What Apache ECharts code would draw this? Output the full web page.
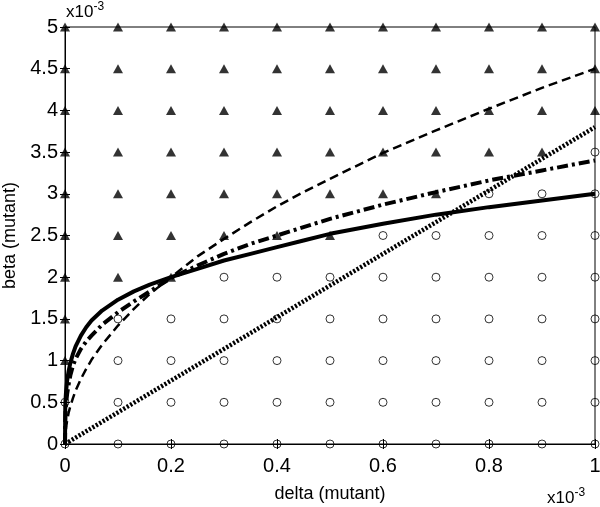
<!DOCTYPE html>
<html>
<head>
<meta charset="utf-8">
<script src="https://cdn.jsdelivr.net/npm/echarts@6/dist/echarts.min.js"></script>
<style>
html,body{margin:0;padding:0;background:#fff;}
#chart{width:600px;height:507px;}
</style>
</head>
<body>
<div id="chart"></div>
<script>
// grid of simulated (delta, beta) pairs, units of 1e-3
const deltaGrid = [0, 0.1, 0.2, 0.3, 0.4, 0.5, 0.6, 0.7, 0.8, 0.9, 1.0];
const betaGrid = [0, 0.5, 1, 1.5, 2, 2.5, 3, 3.5, 4, 4.5, 5];
// highest beta shown as an open circle in each delta column (above: filled triangles)
const circleTop = [0.5, 1.5, 1.5, 2, 2, 2, 2.5, 2.5, 3, 3, 3.5];

// boundary curves
const curveDelta = [0, 0.0005, 0.001, 0.002, 0.004, 0.007, 0.01, 0.015, 0.02, 0.03, 0.04, 0.05, 0.07, 0.1, 0.13, 0.16, 0.2, 0.25, 0.3, 0.35, 0.4, 0.45, 0.5, 0.6, 0.7, 0.8, 0.9, 1.0];
const solidBeta = [0, 0.45, 0.53, 0.63, 0.76, 0.88, 0.97, 1.08, 1.17, 1.3, 1.4, 1.48, 1.6, 1.73, 1.83, 1.91, 2.0, 2.1, 2.2, 2.28, 2.36, 2.44, 2.52, 2.64, 2.75, 2.84, 2.92, 3.0];
const dashedBeta = [0, 0.1, 0.14, 0.2, 0.28, 0.38, 0.45, 0.55, 0.64, 0.78, 0.9, 1.01, 1.19, 1.42, 1.62, 1.8, 2.0, 2.25, 2.46, 2.66, 2.85, 3.02, 3.18, 3.49, 3.76, 4.02, 4.27, 4.5];
const dashDotBeta = [0, 0.3, 0.38, 0.48, 0.6, 0.72, 0.82, 0.94, 1.02, 1.14, 1.23, 1.3, 1.43, 1.58, 1.71, 1.83, 1.99, 2.14, 2.28, 2.4, 2.5, 2.6, 2.7, 2.87, 3.02, 3.16, 3.28, 3.4];
const dottedDelta = [0, 1.0];
const dottedBeta = [0, 3.8];

const xTickLabels = ['0', '0.2', '0.4', '0.6', '0.8', '1'];
const yTickLabels = ['0', '0.5', '1', '1.5', '2', '2.5', '3', '3.5', '4', '4.5', '5'];

const triangles = [], circles = [];
deltaGrid.forEach((d, i) => {
  betaGrid.forEach(b => {
    if (b <= circleTop[i]) circles.push([d, b]); else triangles.push([d, b]);
  });
});
const zip = (xs, ys) => xs.map((x, i) => [x, ys[i]]);

const FONT = 'Liberation Sans, Arial, sans-serif';
const chart = echarts.init(document.getElementById('chart'), null, {renderer: 'canvas'});

const expText = (left, top) => ({type: 'text', left: left, top: top, style: {
  text: '{a|x10}{b|-3}', fontFamily: FONT,
  rich: {a: {fontSize: 17, fontFamily: FONT, fill: '#000', verticalAlign: 'bottom', lineHeight: 20},
         b: {fontSize: 12, fontFamily: FONT, fill: '#000', verticalAlign: 'top', lineHeight: 20}}}});

chart.setOption({
  animation: false,
  backgroundColor: '#fff',
  grid: {left: 65, right: 5, top: 27, bottom: 63, show: true, borderColor: '#000', borderWidth: 1,
         containLabel: false, outerBoundsMode: 'none'},
  xAxis: [{
    type: 'value', min: 0, max: 1, interval: 0.2,
    name: 'delta (mutant)', nameLocation: 'middle', nameGap: 41,
    nameTextStyle: {fontFamily: FONT, fontSize: 18, color: '#000'},
    axisLine: {show: true, onZero: false, lineStyle: {color: '#000', width: 1}},
    axisTick: {show: true, inside: true, length: 5, lineStyle: {color: '#000'}},
    axisLabel: {fontFamily: FONT, fontSize: 20, color: '#000', margin: 12,
      formatter: v => xTickLabels[Math.round(v / 0.2)]},
    splitLine: {show: false}
  }, {
    type: 'value', min: 0, max: 1, interval: 0.2, position: 'top',
    axisLine: {show: true, lineStyle: {color: '#000'}},
    axisTick: {show: true, inside: true, length: 5, lineStyle: {color: '#000'}},
    axisLabel: {show: false}, splitLine: {show: false}
  }],
  yAxis: [{
    type: 'value', min: 0, max: 5, interval: 0.5,
    name: 'beta (mutant)', nameLocation: 'middle', nameGap: 46, nameRotate: 90,
    nameTextStyle: {fontFamily: FONT, fontSize: 18, color: '#000'},
    axisLine: {show: true, onZero: false, lineStyle: {color: '#000', width: 1}},
    axisTick: {show: true, inside: true, length: 5, lineStyle: {color: '#000'}},
    axisLabel: {fontFamily: FONT, fontSize: 20, color: '#000', margin: 7,
      formatter: v => yTickLabels[Math.round(v / 0.5)]},
    splitLine: {show: false}
  }, {
    type: 'value', min: 0, max: 5, interval: 0.5, position: 'right',
    axisLine: {show: true, lineStyle: {color: '#000'}},
    axisTick: {show: true, inside: true, length: 5, lineStyle: {color: '#000'}},
    axisLabel: {show: false}, splitLine: {show: false}
  }],
  graphic: [expText(66, 1), expText(547, 487)],
  series: [
    {type: 'line', data: zip(dottedDelta, dottedBeta), showSymbol: false, symbol: 'none',
     lineStyle: {color: '#000', width: 4.5, type: [2.2, 1.8]}, z: 3},
    {type: 'line', data: zip(curveDelta, dashedBeta), showSymbol: false, symbol: 'none',
     lineStyle: {color: '#000', width: 2.5, type: [9, 5]}, z: 3},
    {type: 'line', data: zip(curveDelta, dashDotBeta), showSymbol: false, symbol: 'none',
     lineStyle: {color: '#000', width: 4, type: [11, 4, 3, 4]}, z: 3},
    {type: 'line', data: zip(curveDelta, solidBeta), showSymbol: false, symbol: 'none',
     lineStyle: {color: '#000', width: 4}, z: 3},
    {type: 'scatter', data: triangles, symbol: 'triangle', symbolSize: [10, 9], clip: false,
     itemStyle: {color: '#000'}, z: 4},
    {type: 'scatter', data: circles, symbol: 'circle', symbolSize: 8, clip: false,
     itemStyle: {color: 'rgba(255,255,255,0)', borderColor: '#000', borderWidth: 1}, z: 4}
  ]
});
</script>
</body>
</html>
